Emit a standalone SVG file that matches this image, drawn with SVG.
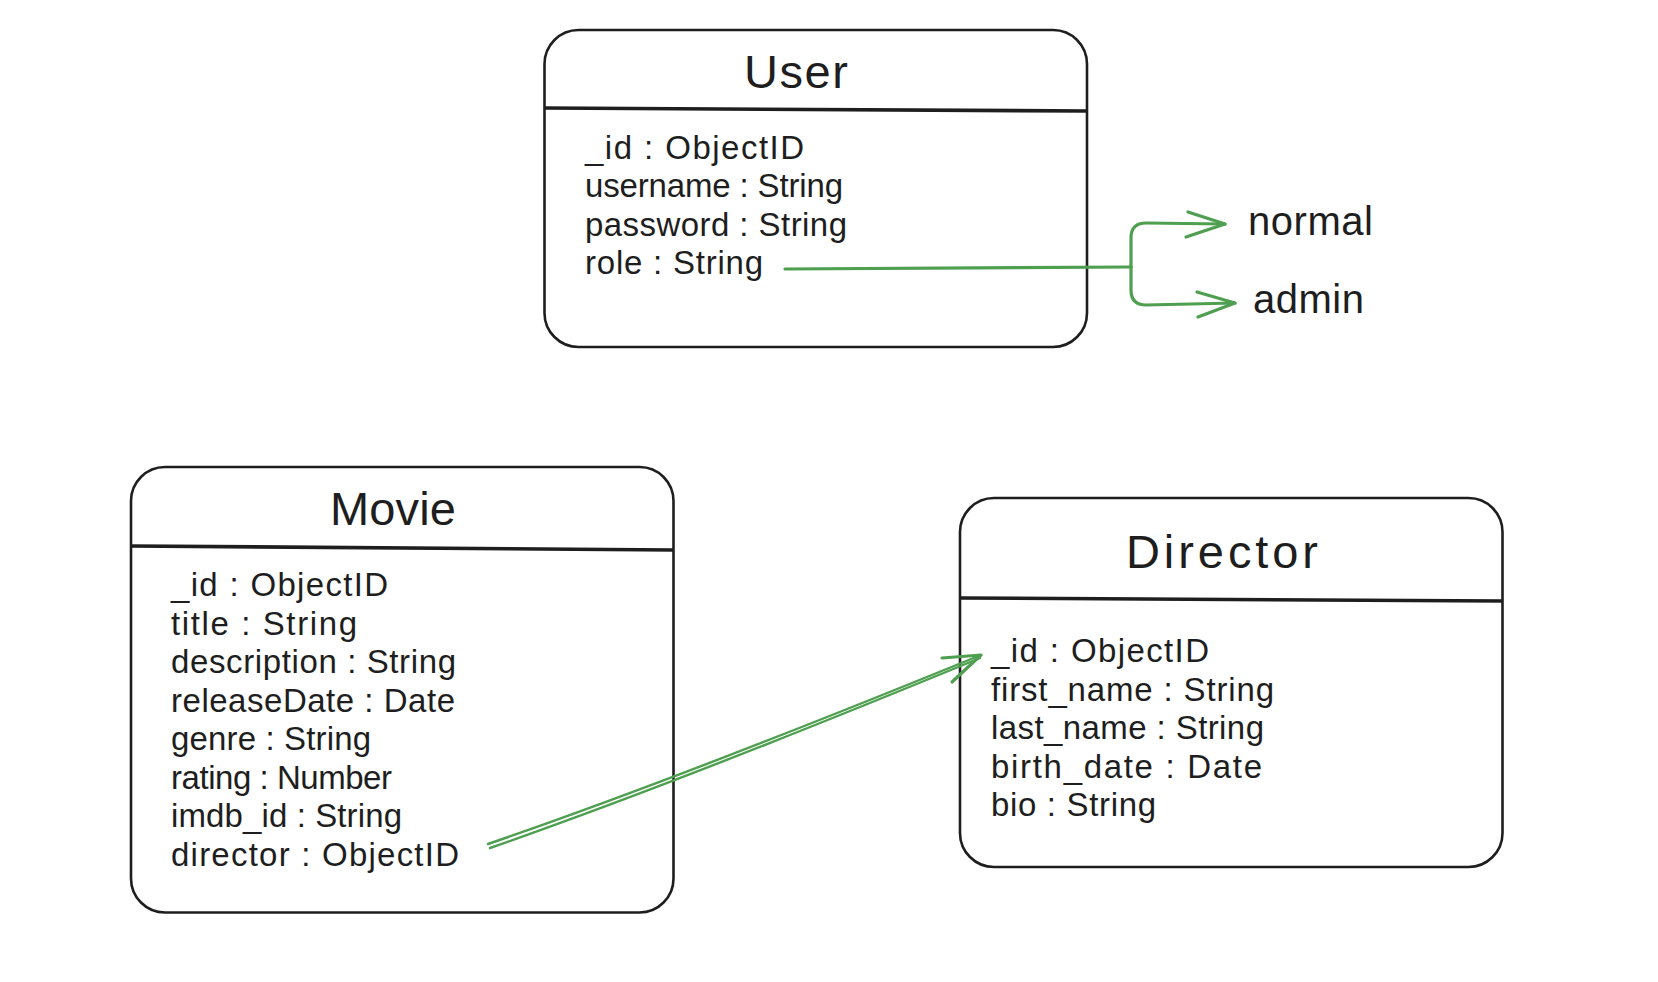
<svg xmlns="http://www.w3.org/2000/svg" width="1658" height="982" viewBox="0 0 1658 982">
<defs>
<style>
.box{fill:none;stroke:#1e1e1e;stroke-width:2.6}
.div{stroke:#1e1e1e;stroke-width:3.6;fill:none}
.title{font-family:"Liberation Sans",Arial,sans-serif;font-size:47px;fill:#1e1e1e;text-anchor:middle}
.fld{font-family:"Liberation Sans",Arial,sans-serif;font-size:33px;fill:#1e1e1e}
.lbl{font-family:"Liberation Sans",Arial,sans-serif;font-size:40px;fill:#1e1e1e}
.con{fill:none;stroke:#4f9f50;stroke-width:3.2;stroke-linecap:round;stroke-linejoin:round}
.thin{fill:none;stroke:#4f9f50;stroke-width:2.4;stroke-linecap:round}
</style>
</defs>
<rect width="1658" height="982" fill="#ffffff"/>
<g id="user">
<rect class="box" x="544.5" y="30" width="542.5" height="317" rx="34"/>
<line class="div" x1="544.5" y1="108" x2="1087" y2="111"/>
<text class="title" x="796" y="88" textLength="104">User</text>
<text class="fld" x="585" y="158.5" textLength="219">_id : ObjectID</text>
<text class="fld" x="585" y="197" textLength="258">username : String</text>
<text class="fld" x="585" y="235.5" textLength="262">password : String</text>
<text class="fld" x="585" y="274" textLength="178">role : String</text>
</g>
<g id="movie">
<rect class="box" x="131" y="467" width="542.5" height="445.5" rx="34"/>
<line class="div" x1="131" y1="546" x2="673.5" y2="550"/>
<text class="title" x="393" y="525" textLength="126">Movie</text>
<text class="fld" x="171" y="596" textLength="217">_id : ObjectID</text>
<text class="fld" x="171" y="634.5" textLength="186">title : String</text>
<text class="fld" x="171" y="673" textLength="285">description : String</text>
<text class="fld" x="171" y="711.5" textLength="284">releaseDate : Date</text>
<text class="fld" x="171" y="750" textLength="200">genre : String</text>
<text class="fld" x="171" y="788.5" textLength="221">rating : Number</text>
<text class="fld" x="171" y="827" textLength="231">imdb_id : String</text>
<text class="fld" x="171" y="865.5" textLength="288">director : ObjectID</text>
</g>
<g id="director">
<rect class="box" x="960" y="498" width="542.5" height="369" rx="34"/>
<line class="div" x1="960" y1="598" x2="1502.5" y2="601"/>
<text class="title" x="1222" y="568" textLength="192">Director</text>
<text class="fld" x="991" y="662" textLength="218">_id : ObjectID</text>
<text class="fld" x="991" y="700.5" textLength="283">first_name : String</text>
<text class="fld" x="991" y="739" textLength="273">last_name : String</text>
<text class="fld" x="991" y="777.5" textLength="271">birth_date : Date</text>
<text class="fld" x="991" y="816" textLength="165">bio : String</text>
</g>
<g id="normal"><text class="lbl" x="1248" y="235" textLength="125">normal</text></g>
<g id="admin"><text class="lbl" x="1253" y="313" textLength="111">admin</text></g>
<g id="connectors">
<path class="con" d="M785 269 L1131 267"/>
<path class="con" d="M1131 267 L1131 238 Q1131 223 1146 223 L1225 224"/>
<path class="con" d="M1188 212 L1225 224 L1186 237"/>
<path class="con" d="M1131 267 L1131 290 Q1131 305 1146 305 L1235 303"/>
<path class="con" d="M1197 292 L1235 303 L1198 317"/>
<path class="thin" d="M488 844 Q680 778 981 655"/>
<path class="thin" d="M490 848 Q682 781 980 658"/>
<path class="con" d="M942 658 L981 655 L952 682"/>
</g>
</svg>
